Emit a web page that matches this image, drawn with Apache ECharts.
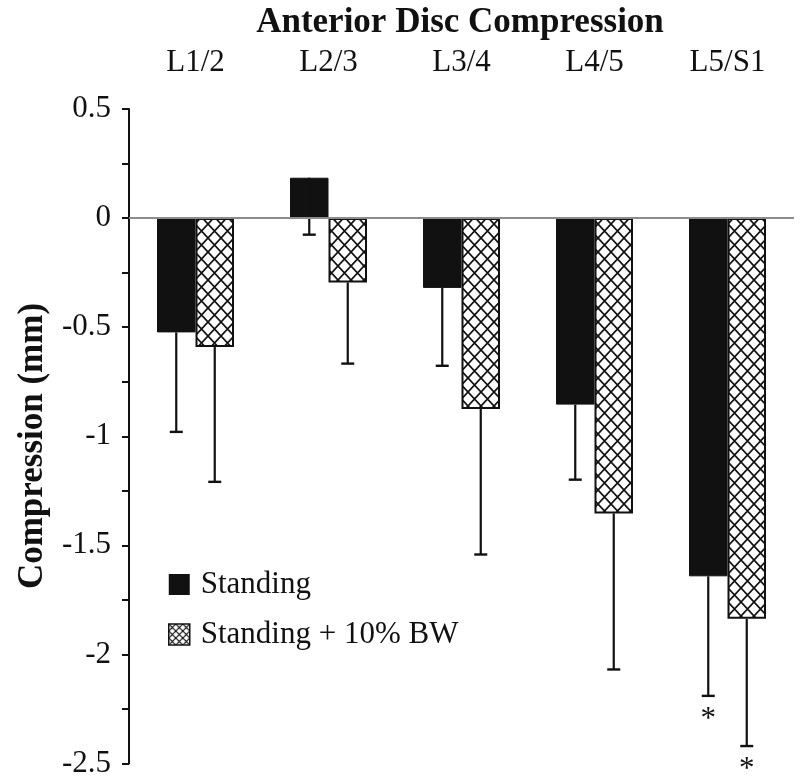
<!DOCTYPE html>
<html>
<head>
<meta charset="utf-8">
<script src="https://cdn.jsdelivr.net/npm/echarts@6/dist/echarts.min.js"></script>
<style>
html,body{margin:0;padding:0;background:#fff;}
#chart{width:800px;height:779px;}
</style>
</head>
<body>
<div id="chart"></div>
<script>
// ---- data ----
const categories = ['L1/2', 'L2/3', 'L3/4', 'L4/5', 'L5/S1'];
const seriesNames = ['Standing', 'Standing + 10% BW'];
const standing = [-0.524, 0.185, -0.32, -0.855, -1.642];
const standingErrLow = [-0.98, -0.076, -0.677, -1.199, -2.19];
const loaded = [-0.591, -0.295, -0.875, -1.354, -1.837];
const loadedErrLow = [-1.209, -0.667, -1.542, -2.069, -2.42];
const standingSig = [false, false, false, false, true];
const loadedSig = [false, false, false, false, true];
const yMin = -2.5, yMax = 0.5, yStep = 0.25, yLabelStep = 0.5;
const titleText = 'Anterior Disc Compression';
const yAxisTitle = 'Compression (mm)';

// ---- styling helpers ----
const FONT = "'Liberation Serif','Times New Roman',serif";
const INK = '#111';
const BAR_W = 38.5;

function makeHatch(w, h, lw) {
  const c = document.createElement('canvas');
  c.width = w; c.height = h;
  const ctx = c.getContext('2d');
  ctx.fillStyle = '#fff';
  ctx.fillRect(0, 0, w, h);
  ctx.strokeStyle = INK;
  ctx.lineWidth = lw;
  for (let k = -1; k <= 1; k++) {
    for (let j = -1; j <= 1; j++) {
      const ox = k * w, oy = j * h;
      ctx.beginPath();
      ctx.moveTo(ox, oy); ctx.lineTo(ox + w, oy + h);
      ctx.moveTo(ox + w, oy); ctx.lineTo(ox, oy + h);
      ctx.stroke();
    }
  }
  return c;
}
const hatchBig = makeHatch(13, 14, 1.7);
const hatchSmall = makeHatch(7, 7, 1.2);

function errData(means, lows, sigs) {
  return means.map((m, i) => [i, m, lows[i], sigs[i] ? 1 : 0]);
}

function errRender(offset) {
  return function (params, api) {
    const i = api.value(0);
    const top = api.coord([i, api.value(1)]);
    const bot = api.coord([i, api.value(2)]);
    const x = top[0] + offset;
    const children = [
      { type: 'line', shape: { x1: x, y1: top[1], x2: x, y2: bot[1] },
        style: { stroke: INK, lineWidth: 2.2 } },
      { type: 'line', shape: { x1: x - 6.5, y1: bot[1], x2: x + 6.5, y2: bot[1] },
        style: { stroke: INK, lineWidth: 2.4 } }
    ];
    if (api.value(3)) {
      children.push({ type: 'text', x: x, y: bot[1] + 24,
        style: { text: '*', fontFamily: FONT, fontSize: 31, fill: INK,
          align: 'center', verticalAlign: 'middle' } });
    }
    return { type: 'group', children: children };
  };
}

const chart = echarts.init(document.getElementById('chart'), null, { renderer: 'canvas' });
chart.setOption({
  animation: false,
  backgroundColor: '#fff',
  title: {
    text: titleText,
    left: 455, top: 0, textAlign: 'center',
    textStyle: { fontFamily: FONT, fontWeight: 'bold', fontSize: 35, color: INK }
  },
  graphic: [{
    type: 'text', x: 33, y: 446, rotation: Math.PI / 2, silent: true,
    style: { text: yAxisTitle, fontFamily: FONT, fontWeight: 'bold', fontSize: 35,
      fill: INK, align: 'center', verticalAlign: 'middle' }
  }],
  legend: {
    orient: 'vertical', left: 168, top: 569, padding: 0,
    itemWidth: 21, itemHeight: 21, itemGap: 19,
    icon: 'rect',
    textStyle: { fontFamily: FONT, fontSize: 31, color: INK, lineHeight: 31, padding: [0, 0, 0, 6] },
    data: [
      { name: seriesNames[0], itemStyle: { color: INK, borderWidth: 0 } },
      { name: seriesNames[1], itemStyle: { color: { image: hatchSmall, repeat: 'repeat' }, borderColor: INK, borderWidth: 1.5 } }
    ]
  },
  grid: { left: 129, right: 6, top: 109, bottom: 15, containLabel: false },
  xAxis: {
    type: 'category', data: categories, position: 'top',
    axisLine: { show: false }, axisTick: { show: false },
    axisLabel: { fontFamily: FONT, fontSize: 31, color: INK, margin: 31, lineHeight: 31 }
  },
  yAxis: {
    type: 'value', min: yMin, max: yMax, interval: yStep,
    axisLine: { show: true, lineStyle: { color: INK, width: 2 } },
    axisTick: { show: true, length: 7, lineStyle: { color: INK, width: 2 } },
    splitLine: { show: false },
    axisLabel: {
      fontFamily: FONT, fontSize: 31, color: INK, margin: 18,
      formatter: function (v) {
        const r = Math.round(v / yLabelStep * 1000) / 1000;
        return Number.isInteger(r) ? String(Math.round(v * 100) / 100) : '';
      }
    }
  },
  series: [
    {
      name: seriesNames[0], type: 'bar', data: standing,
      barWidth: BAR_W, barGap: '0%',
      itemStyle: { color: INK, borderColor: INK, borderWidth: 1 },
      z: 2,
      markLine: {
        silent: true, symbol: 'none', label: { show: false },
        lineStyle: { color: '#8c8c8c', width: 2, type: 'solid' },
        data: [{ yAxis: 0 }], z: 5
      }
    },
    {
      name: seriesNames[1], type: 'bar', data: loaded,
      barWidth: BAR_W, barGap: '0%',
      itemStyle: { color: { image: hatchBig, repeat: 'repeat' }, borderColor: INK, borderWidth: 2 },
      z: 2
    },
    {
      type: 'custom', name: 'err1', data: errData(standing, standingErrLow, standingSig),
      renderItem: errRender(-BAR_W / 2), z: 4, silent: true,
      encode: { x: 0, y: [1, 2] }
    },
    {
      type: 'custom', name: 'err2', data: errData(loaded, loadedErrLow, loadedSig),
      renderItem: errRender(BAR_W / 2), z: 4, silent: true,
      encode: { x: 0, y: [1, 2] }
    }
  ]
});
</script>
</body>
</html>
